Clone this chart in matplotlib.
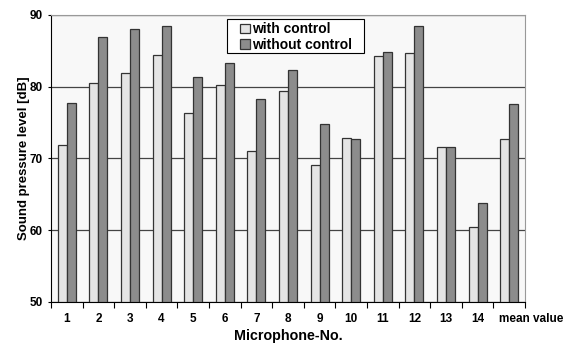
import matplotlib
matplotlib.use("Agg")
import matplotlib.pyplot as plt
import matplotlib.transforms as mtransforms
from matplotlib.patches import Rectangle
import numpy as np

plt.rcParams['font.family'] = ['Liberation Sans', 'DejaVu Sans']
plt.rcParams['font.weight'] = 'bold'

categories = ["1", "2", "3", "4", "5", "6", "7", "8", "9", "10", "11", "12", "13", "14", "mean value"]
with_control = [71.9, 80.5, 81.9, 84.4, 76.4, 80.3, 71.1, 79.4, 69.1, 72.8, 84.3, 84.7, 71.6, 60.4, 72.7]
without_control = [77.7, 86.9, 88.0, 88.4, 81.3, 83.3, 78.3, 82.3, 74.8, 72.7, 84.8, 88.4, 71.6, 63.8, 77.6]

W, H = 573, 345
fig = plt.figure(figsize=(W/100, H/100), dpi=100)
ax = fig.add_axes([51/W, 1 - 302/H, 474/W, 287/H])
ax.set_facecolor('#f8f8f8')

x = np.arange(len(categories))
w = 0.285
ax.bar(x - w/2, np.array(with_control) - 50, w, bottom=50, color='#e4e4e4',
       edgecolor='#333333', linewidth=0.9, label='with control', zorder=3)
ax.bar(x + w/2, np.array(without_control) - 50, w, bottom=50, color='#8c8c8c',
       edgecolor='#333333', linewidth=0.9, label='without control', zorder=3)

ax.set_xlim(-0.5, len(categories) - 0.5)
ax.set_ylim(50, 90)
ax.set_yticks([50, 60, 70, 80, 90])
ax.yaxis.grid(True, color='#444444', linewidth=0.9, zorder=1)
ax.set_axisbelow(True)

ax.set_xticks(np.arange(len(categories) + 1) - 0.5)
ax.set_xticklabels([])
ax.set_xticks(x, minor=True)
ax.set_xticklabels(categories[:-1] + [""], minor=True, fontsize=8.5, fontweight='bold')
# "mean value" is drawn starting a little left of its group centre
ax.text(x[-1], 0, categories[-1], fontsize=8.5, fontweight='bold', ha='left', va='top',
        transform=ax.get_xaxis_transform() +
        mtransforms.ScaledTranslation(-10/100, -11.3/100, fig.dpi_scale_trans))
ax.tick_params(axis='x', which='minor', length=0, pad=8)
ax.tick_params(axis='x', which='major', length=4, width=0.8, direction='out')
ax.tick_params(axis='y', labelsize=8.5, length=2, width=0.8, pad=4)

for s in ['top', 'right']:
    ax.spines[s].set_color('#999999')
for s in ['left', 'bottom']:
    ax.spines[s].set_color('#000000')

ax.set_ylabel('Sound pressure level [dB]', fontsize=9.5, fontweight='bold', labelpad=-0.5)
ax.set_xlabel('Microphone-No.', fontsize=10.3, fontweight='bold', labelpad=3)

leg = ax.legend(loc='upper left', bbox_to_anchor=((237-51)/474, 0.986), fontsize=10,
                frameon=False,
                handlelength=0.65, handleheight=0.65, handletextpad=0.2,
                borderpad=0.25, labelspacing=0.1, borderaxespad=0)
leg.set_zorder(6)
for t in leg.get_texts():
    t.set_fontweight('bold')

frame = Rectangle((227/W, 1 - 52.7/H), (364-227)/W, (52.7-19)/H,
                  transform=fig.transFigure, facecolor='white',
                  edgecolor='black', linewidth=0.8, zorder=5)
fig.patches.append(frame)
fig.add_artist(leg)

fig.savefig('out.png', dpi=100)
